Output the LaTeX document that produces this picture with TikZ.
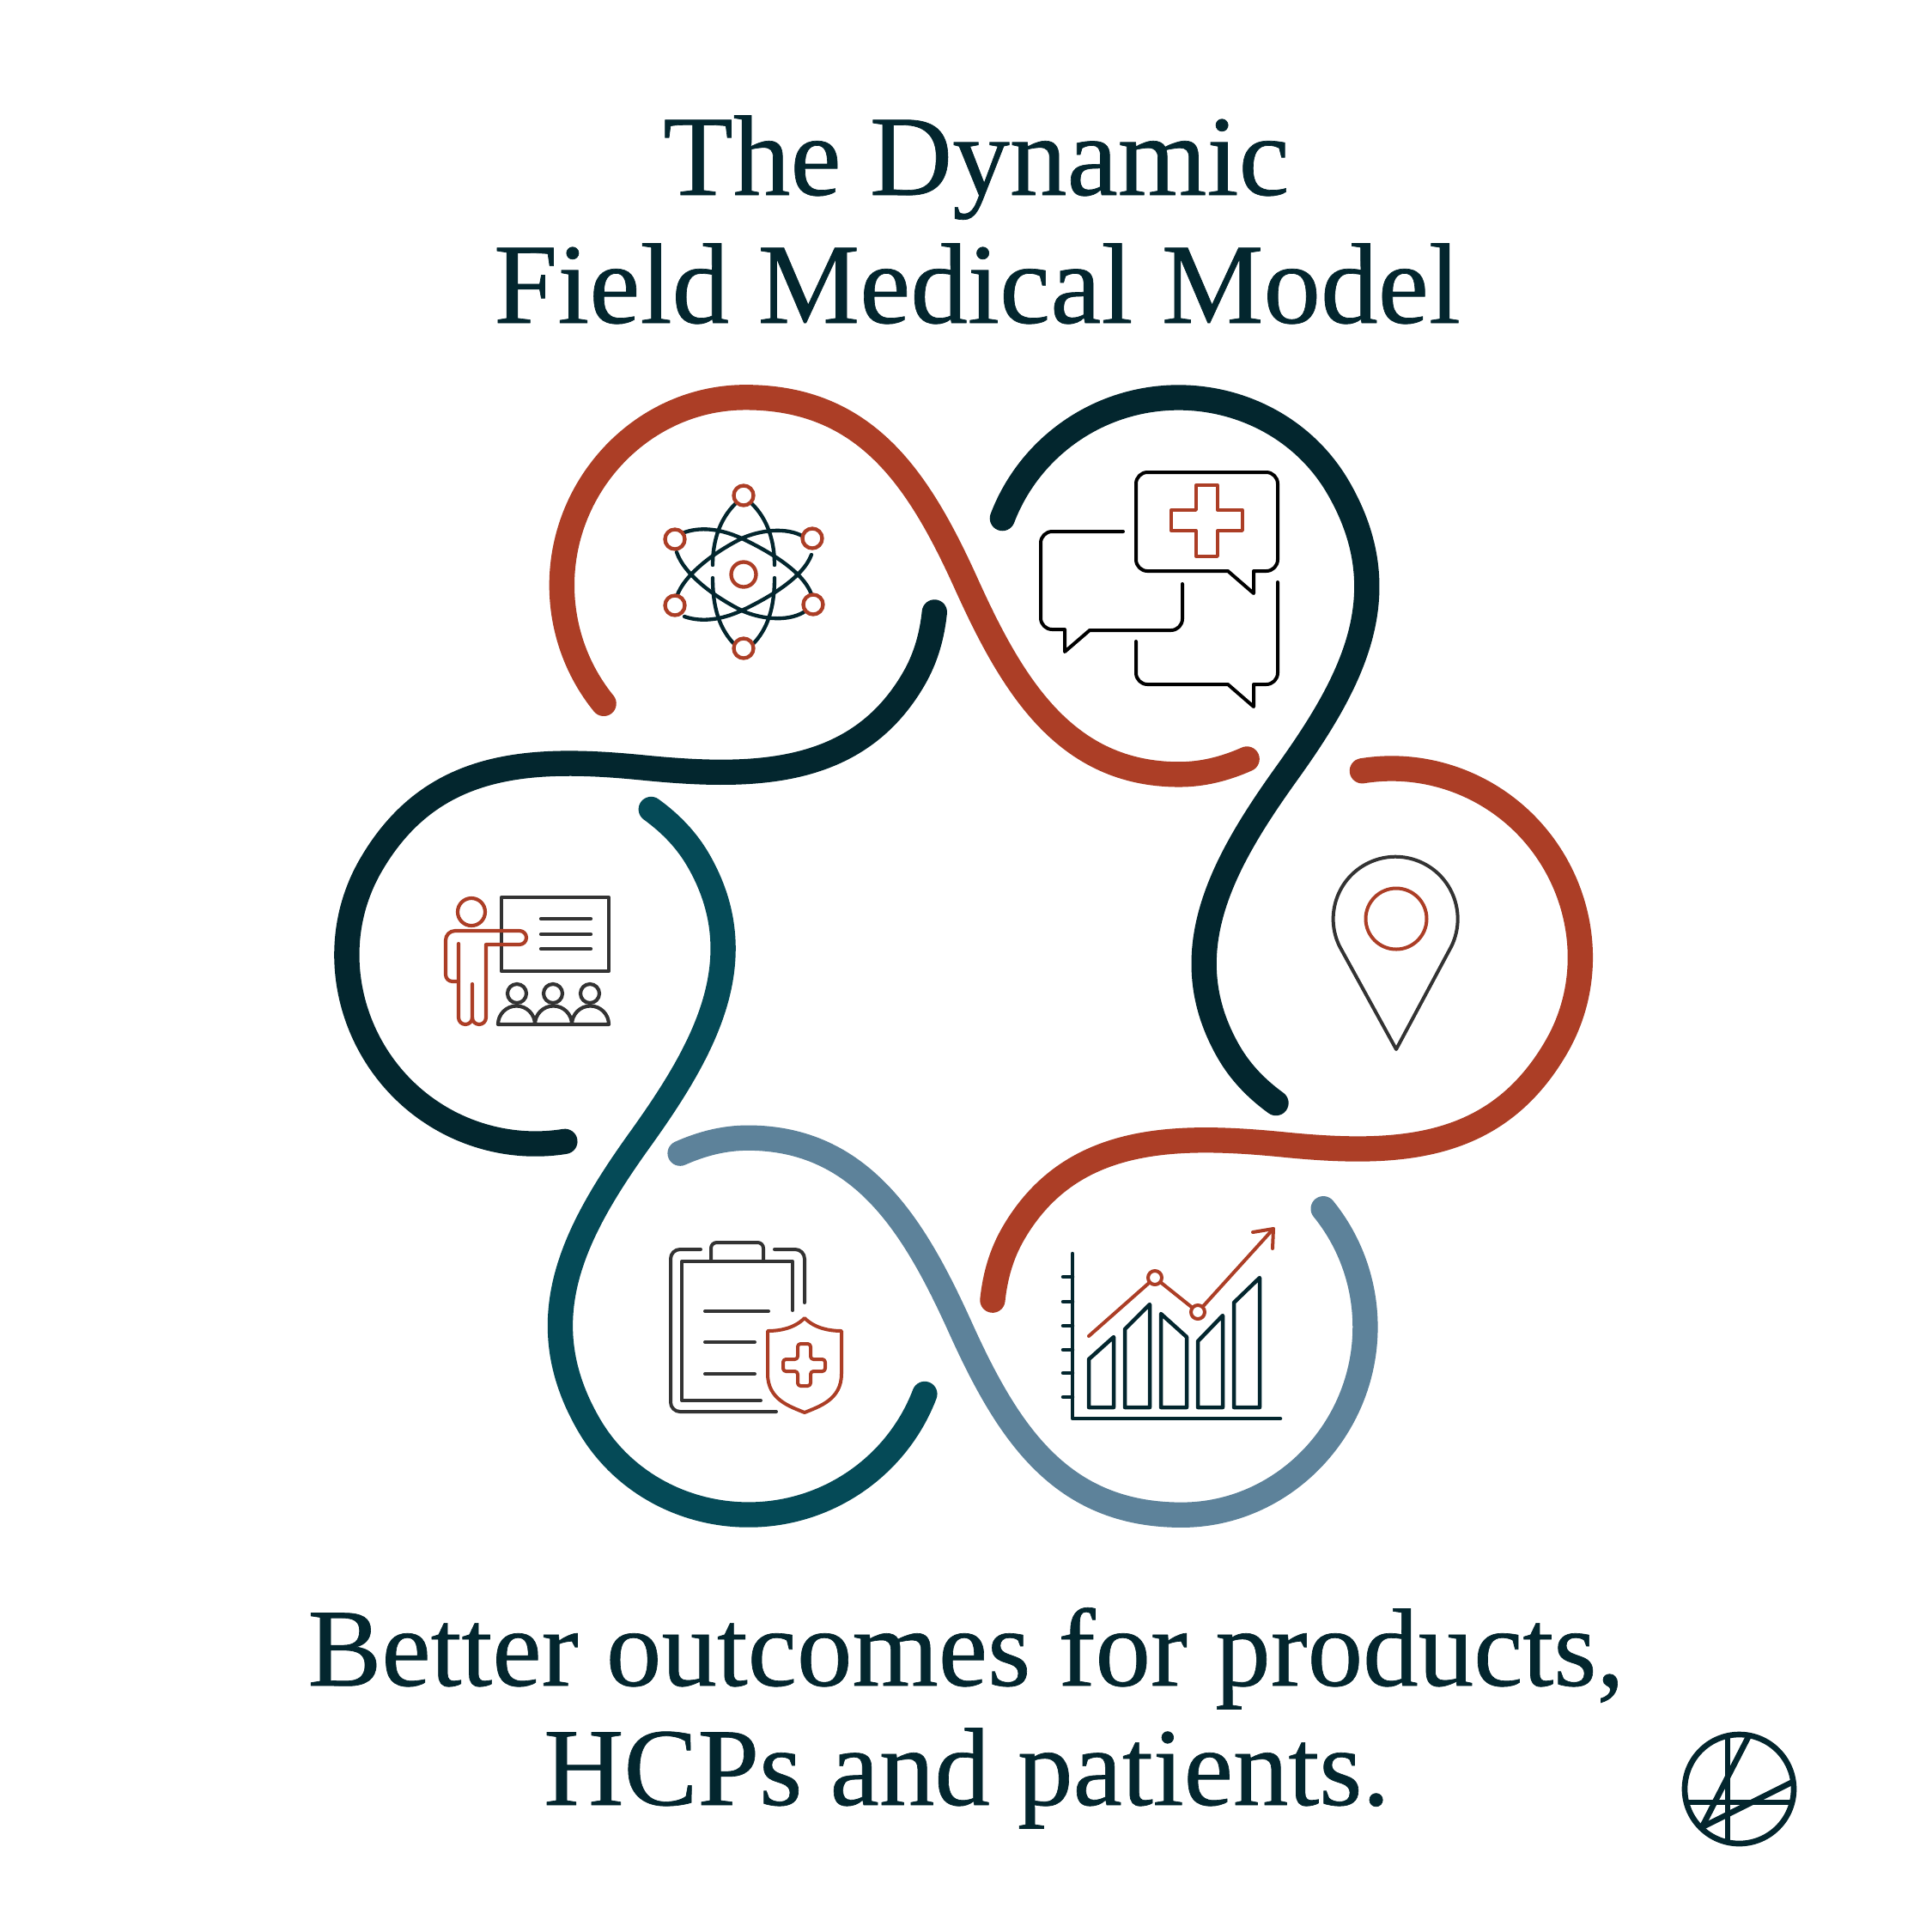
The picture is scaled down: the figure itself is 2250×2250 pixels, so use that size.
\documentclass[tikz,border=0pt]{standalone}
\usepackage{fontspec}
\setmainfont{Liberation Serif}[FakeBold=0.5]
\definecolor{inkdark}{HTML}{03262E}
\definecolor{brick}{HTML}{AC3E26}
\definecolor{tealdk}{HTML}{054A57}
\definecolor{slate}{HTML}{5D829A}
\definecolor{greyline}{HTML}{333333}
\tikzset{
  ribbon/.style={line width=8.8pt,line cap=round,line join=round},
  title/.style={anchor=base,text=inkdark,inner sep=0pt,font=\fontsize{40}{48}\selectfont},
  bottomtext/.style={anchor=base,text=inkdark,inner sep=0pt,font=\fontsize{38.7}{46}\selectfont},
  ico/.style={line width=1.2pt,line cap=round,line join=round},
}
\newcommand{\ribbonpath}{(490,571) .. controls (468,544) and (456,510) .. (456,475) .. controls (456,392.2) and (522.8,322.5) .. (605,322.5) .. controls (703,322.5) and (746,389) .. (785,475.5) .. controls (822,557) and (865,628.5) .. (957,628.5) .. controls (976,628.5) and (994,624) .. (1012,616)}
\begin{document}
\begin{tikzpicture}[x=0.3pt,y=-0.3pt]
\useasboundingbox[fill=white] (0,0) rectangle (2250,2250);
% ribbons: six copies turned about the centre
\begin{scope}[scale=1.43495]
\draw[ribbon,brick] \ribbonpath;
\draw[ribbon,inkdark,rotate around={300:(782,776)}] \ribbonpath;
\draw[ribbon,brick,rotate around={240:(782,776)}] \ribbonpath;
\draw[ribbon,slate,rotate around={180:(782,776)}] \ribbonpath;
\draw[ribbon,tealdk,rotate around={120:(782,776)}] \ribbonpath;
\draw[ribbon,inkdark,rotate around={60:(782,776)}] \ribbonpath;
\end{scope}
% texts
\node[title] (t1) at (1137,227) {The Dynamic};
\node[title] (t2) at (1138,376) {Field Medical Model};
\node[bottomtext] (b1) at (1125,1963) {Better outcomes for products,};
\node[bottomtext] (b2) at (1126,2102) {HCPs and patients.};
% atom
\begin{scope}[ico,inkdark,line width=1.3pt]
\draw (856,587) .. controls (838,605) and (830,630) .. (830,658);
\draw (876,587) .. controls (894,605) and (902,630) .. (902,658);
\draw (856,751) .. controls (838,733) and (830,708) .. (830,673);
\draw (876,751) .. controls (894,733) and (902,708) .. (902,673);
\draw (797,620) .. controls (820,612) and (845,618) .. (866,628) .. controls (895,642) and (935,665) .. (945,692);
\draw (797,718) .. controls (820,726) and (845,720) .. (866,710) .. controls (895,696) and (935,673) .. (945,646);
\draw (788,643) .. controls (797,670) and (835,697) .. (866,712) .. controls (885,720) and (915,725) .. (936,713);
\draw (788,695) .. controls (797,668) and (835,641) .. (866,626) .. controls (885,618) and (915,613) .. (936,625);
\end{scope}
\begin{scope}[ico,brick,line width=1.3pt]
\draw[fill=white] (866,669) circle (14.5);
\draw[fill=white] (866,577) circle (11.5);
\draw[fill=white] (866,755) circle (11.5);
\draw[fill=white] (786,628) circle (11.5);
\draw[fill=white] (946,627) circle (11.5);
\draw[fill=white] (786,705) circle (11.5);
\draw[fill=white] (947,704) circle (11.5);
\end{scope}
% chat bubbles
\begin{scope}[ico,black]
\draw (1430,665) -- (1460,691) -- (1460,665) [rounded corners=4pt] -- (1488,665) -- (1488,550) -- (1323,550) -- (1323,665) -- (1430,665);
\draw (1308,619) [rounded corners=4pt] -- (1212,619) -- (1212,733) [sharp corners] -- (1240,733) -- (1240,759) -- (1269,734) [rounded corners=4pt] -- (1377,734) -- (1377,680);
\draw (1488,678) [rounded corners=4pt] -- (1488,797) [sharp corners] -- (1460,797) -- (1460,823) -- (1430,797) [rounded corners=4pt] -- (1323,797) -- (1323,747);
\draw[brick,line width=1pt] (1393,565) -- (1418,565) -- (1418,594) -- (1447,594) -- (1447,618) -- (1418,618) -- (1418,648) -- (1393,648) -- (1393,618) -- (1364,618) -- (1364,594) -- (1393,594) -- cycle;
\end{scope}
% pin
\begin{scope}[ico,greyline]
\draw (1626,1222) -- (1560,1102) arc (154:386:72.5) -- cycle;
\draw[brick] (1626,1070) circle (35.5);
\end{scope}
% presenter
\begin{scope}[ico,greyline,line width=1.25pt]
\draw (584,1045) rectangle (709,1131);
\draw (630,1070) -- (688,1070);
\draw (630,1088) -- (688,1088);
\draw (630,1105) -- (688,1105);
\draw (602,1157) circle (11);
\draw (644,1157) circle (11);
\draw (687,1157) circle (11);
\draw (580,1193) arc (180:360:21.5) arc (180:360:21.5) arc (180:360:21.5) -- cycle;
\draw[brick] (549,1062) circle (16);
\draw[brick] (534,1099) -- (534,1185) arc (180:0:8) -- (550,1146);
\draw[brick] (550,1185) arc (180:0:8) -- (566,1100) -- (605,1100) arc (90:-90:8) -- (530,1084) arc (270:180:11) -- (519,1135) arc (180:90:8) -- (534,1143);
\end{scope}
% clipboard
\begin{scope}[ico,greyline]
\draw[rounded corners=3.3pt] (816,1455) -- (781,1455) -- (781,1644) -- (904,1644);
\draw[rounded corners=3.3pt] (902,1455) -- (937,1455) -- (937,1517);
\draw (923,1526) -- (923,1469) -- (794,1469) -- (794,1631) -- (886,1631);
\draw[rounded corners=2pt] (828,1469) -- (828,1447) -- (889,1447) -- (889,1469);
\draw (821,1527) -- (895,1527);
\draw (821,1563) -- (879,1563);
\draw (821,1600) -- (879,1600);
\begin{scope}[brick]
\draw (937,1535) .. controls (925,1547) and (908,1550) .. (894,1550) -- (894,1600) .. controls (894,1630) and (920,1638) .. (937,1645) .. controls (954,1638) and (980,1630) .. (980,1600) -- (980,1550) .. controls (966,1550) and (949,1547) .. (937,1535) -- cycle;
\draw[rounded corners=1pt] (929,1565) -- (944,1565) -- (944,1583) -- (961,1583) -- (961,1597) -- (944,1597) -- (944,1614) -- (929,1614) -- (929,1597) -- (912,1597) -- (912,1583) -- (929,1583) -- cycle;
\end{scope}
\end{scope}
% chart
\begin{scope}[ico,inkdark,line width=1.35pt]
\draw (1249,1460) -- (1249,1652) -- (1491,1652);
\draw (1238,1487) -- (1249,1487);
\draw (1238,1516) -- (1249,1516);
\draw (1238,1544) -- (1249,1544);
\draw (1238,1572) -- (1249,1572);
\draw (1238,1599) -- (1249,1599);
\draw (1238,1627) -- (1249,1627);
\draw (1268,1639) -- (1268,1583) -- (1297,1557) -- (1297,1639) -- cycle;
\draw (1310,1639) -- (1310,1548) -- (1339,1519) -- (1339,1639) -- cycle;
\draw (1352,1639) -- (1352,1530) -- (1382,1557) -- (1382,1639) -- cycle;
\draw (1395,1639) -- (1395,1562) -- (1424,1532) -- (1424,1639) -- cycle;
\draw (1437,1639) -- (1437,1517) -- (1467,1488) -- (1467,1639) -- cycle;
\begin{scope}[brick,line width=1.2pt]
\draw (1268,1556) -- (1345,1488) -- (1395,1528) -- (1483,1431);
\draw (1459,1435) -- (1483,1431) -- (1482,1454);
\draw[fill=white] (1345,1488) circle (8);
\draw[fill=white] (1395,1528) circle (8);
\end{scope}
\end{scope}
% logo
\begin{scope}[inkdark,line width=2pt,line cap=butt]
\draw (2025.5,2083.5) circle (63.5);
\draw (2012,2022) -- (2012,2145);
\draw (1964,2099) -- (2087,2099);
\draw (1982,2128) -- (2037,2021);
\draw (1982,2128) -- (2088,2075);
\end{scope}
\end{tikzpicture}
\end{document}
